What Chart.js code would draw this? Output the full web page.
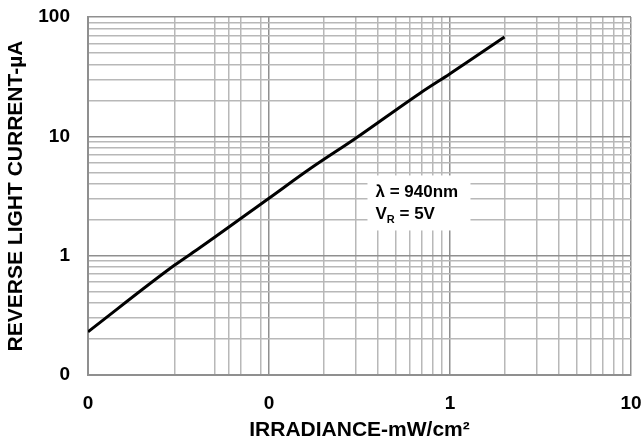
<!DOCTYPE html>
<html lang="en">
<head>
  <meta charset="utf-8">
  <title>Reverse Light Current vs Irradiance</title>
  <script type="text/javascript" src="https://cdn.jsdelivr.net/npm/chart.js"></script>
  <style type="text/css">
    html, body { margin:0; padding:0; background:#fff; }
    #wrap { width:644px; height:445px; }
  </style>
</head>
<body>

  <div id="wrap">
    <canvas id="chart"></canvas>
  </div>

  <script type="text/javascript">
    // curve (mW/cm2 -> uA)
    const irradiance = [0.01, 0.03, 0.042, 0.1, 0.17, 0.3, 0.68, 1, 2];
    const current = [0.23, 0.83, 1.18, 3.03, 5.4, 9.6, 22.9, 33.5, 68];

    // decade ticks and the labels printed on them
    const xMajors = [0.01, 0.1, 1, 10];
    const xLabels = ['0', '0', '1', '10'];
    const yMajors = [0.1, 1, 10, 100];
    const yLabels = ['0', '1', '10', '100'];

    // minor grid steps per decade (the first x decade of the original lacks 2, 4, 8)
    const xMinorSteps = [[3, 5, 6, 7, 9], [2, 3, 4, 5, 6, 7, 8, 9], [2, 3, 4, 5, 6, 7, 8, 9]];
    const yMinorSteps = [[2, 3, 4, 5, 6, 7, 8, 9], [2, 3, 4, 5, 6, 7, 8, 9], [2, 3, 4, 5, 6, 7, 8, 9]];

    const noteLines = ['\u03bb = 940nm', 'V', 'R', ' = 5V'];

    const buildTicks = (majors, steps) => {
      const ticks = [];
      majors.forEach((m, i) => {
        ticks.push({ value: m, major: true });
        (steps[i] || []).forEach(s => ticks.push({ value: +(m * s).toPrecision(6), major: false }));
      });
      return ticks.sort((a, b) => a.value - b.value);
    };

    const labelFor = (majors, labels) => (value) => {
      const k = majors.findIndex(v => Math.abs(v - value) < v * 1e-6);
      return k >= 0 ? labels[k] : '';
    };

    const FONT = 'Arial, "Liberation Sans", sans-serif';
    const tickFont = { family: FONT, size: 19, weight: 'bold' };
    const titleFont = { family: FONT, size: 21, weight: 'bold' };
    const gridColor = (ctx) => (ctx.tick && ctx.tick.major) ? '#8f8f8f' : '#b8b8b8';

    const notePlugin = {
      id: 'note',
      beforeDatasetsDraw(chart) {
        const { ctx, scales } = chart;
        const left = scales.x.getPixelForValue(0.35);
        const top = scales.y.getPixelForValue(4.7);
        ctx.save();
        ctx.fillStyle = '#fff';
        ctx.fillRect(left, top, 103, 55);
        ctx.fillStyle = '#000';
        ctx.textBaseline = 'alphabetic';
        ctx.font = 'bold 17px ' + FONT;
        ctx.fillText(noteLines[0], left + 8, top + 22);
        ctx.fillText(noteLines[1], left + 8, top + 44);
        const vw = ctx.measureText(noteLines[1]).width;
        ctx.font = 'bold 11px ' + FONT;
        ctx.fillText(noteLines[2], left + 8 + vw, top + 48);
        const rw = ctx.measureText(noteLines[2]).width;
        ctx.font = 'bold 17px ' + FONT;
        ctx.fillText(noteLines[3], left + 8 + vw + rw, top + 44);
        ctx.restore();
      }
    };

    new Chart(document.getElementById('chart'), {
      type: 'line',
      data: {
        datasets: [{
          data: irradiance.map((x, i) => ({ x, y: current[i] })),
          borderColor: '#000',
          borderWidth: 3,
          pointRadius: 0,
          cubicInterpolationMode: 'monotone',
          fill: false
        }]
      },
      options: {
        responsive: true,
        maintainAspectRatio: false,
        animation: false,
        layout: { padding: { top: 17, right: 13, left: 0, bottom: 0 } },
        plugins: { legend: { display: false }, tooltip: { enabled: false } },
        scales: {
          x: {
            type: 'logarithmic',
            min: 0.01,
            max: 10,
            afterBuildTicks: (scale) => { scale.ticks = buildTicks(xMajors, xMinorSteps); },
            afterFit: (scale) => {
              scale.height = 70;
              scale.paddingLeft = 0;
              scale.paddingRight = 0;
            },
            ticks: {
              autoSkip: false,
              maxRotation: 0,
              padding: 17,
              color: '#000',
              font: tickFont,
              callback: labelFor(xMajors, xLabels)
            },
            grid: { color: gridColor, lineWidth: 1.5, drawTicks: false },
            border: { color: '#8f8f8f', width: 2 },
            title: {
              display: true,
              text: 'IRRADIANCE-mW/cm\u00b2',
              color: '#000',
              font: titleFont,
              padding: { top: 0, bottom: 2 }
            }
          },
          y: {
            type: 'logarithmic',
            min: 0.1,
            max: 100,
            afterBuildTicks: (scale) => { scale.ticks = buildTicks(yMajors, yMinorSteps); },
            afterFit: (scale) => {
              scale.width = 88;
              scale.paddingTop = 0;
              scale.paddingBottom = 0;
            },
            ticks: {
              autoSkip: false,
              padding: 18,
              color: '#000',
              font: tickFont,
              callback: labelFor(yMajors, yLabels)
            },
            grid: { color: gridColor, lineWidth: 1.5, drawTicks: false },
            border: { color: '#8f8f8f', width: 2 },
            title: {
              display: true,
              text: 'REVERSE LIGHT CURRENT-\u00b5A',
              color: '#000',
              font: titleFont,
              padding: { top: 4, bottom: 0 }
            }
          }
        }
      },
      plugins: [notePlugin]
    });
  </script>

</body>
</html>
